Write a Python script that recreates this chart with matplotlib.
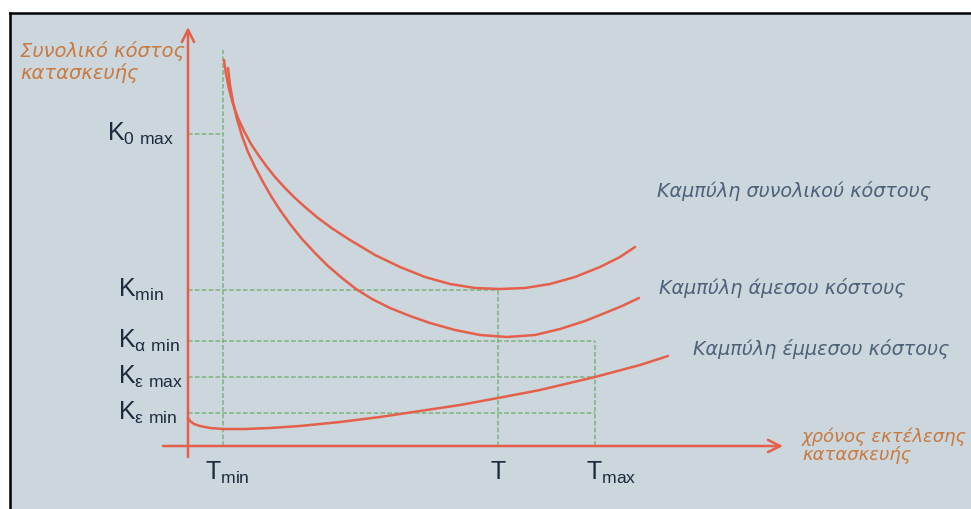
import matplotlib
matplotlib.use("Agg")
import matplotlib.pyplot as plt

# schematic units, origin at the crossing of the two axes
T_MIN, T_OPT, T_MAX = 35, 310, 407
K0_MAX, K_MIN, KA_MIN, KE_MAX, KE_MIN = 312, 156, 105, 69, 33
TMIN_TOP = 396

# total cost curve
total_t = [36, 38, 41, 45, 50, 56, 63, 71, 79, 87, 97, 107, 117, 130, 145, 162,
           187, 212, 237, 262, 287, 312, 337, 362, 387, 412, 432, 447]
total_k = [386, 372, 357, 342, 328, 315, 302, 290, 279, 269, 258, 248, 239, 228, 217, 206,
           191, 179, 169, 162, 158, 157, 158, 162, 169, 179, 189, 199]
# direct cost curve
direct_t = [40, 42, 45, 49, 54, 60, 67, 75, 83, 92, 102, 114, 127, 140, 154, 168,
            184, 202, 222, 242, 267, 292, 319, 347, 372, 397, 417, 434, 451]
direct_k = [378, 361, 344, 327, 310, 294, 279, 264, 250, 236, 222, 207, 193, 180, 168, 157,
            147, 138, 130, 123, 116, 111, 109, 111, 117, 125, 133, 140, 148]
# indirect cost curve
indirect_t = [0, 2, 6, 12, 22, 35, 57, 82, 112, 152, 192, 232, 272, 310, 352, 407, 452, 480]
indirect_k = [28, 25, 22, 20, 18, 17, 17, 18, 20, 24, 29, 35, 41, 48, 56, 69, 81, 90]

BG = "#cbd6dd"
RED = "#e4604a"
GREEN = "#7fb27a"
ORANGE = "#c97a40"
SLATE = "#4d6179"
DARK = "#1e2a3e"

plt.rcParams["font.family"] = ["Liberation Sans", "DejaVu Sans"]
plt.rcParams["mathtext.fontset"] = "custom"
plt.rcParams["mathtext.rm"] = "Liberation Sans"
ITAL = dict(family="DejaVu Sans", style="oblique")

W, H = 971, 509
fig = plt.figure(figsize=(W / 100, H / 100), dpi=100)
fig.patch.set_facecolor("white")
ax = fig.add_axes([10 / W, 0, (W - 10) / W, (H - 13) / H])
ax.set_facecolor(BG)
ax.set_xlim(-178, 783)
ax.set_ylim(-63, 433)
ax.set_xticks([]); ax.set_yticks([])
for s in ("right", "bottom"):
    ax.spines[s].set_visible(False)
for s in ("left", "top"):
    ax.spines[s].set_color("black"); ax.spines[s].set_linewidth(1.8)

dash = dict(color=GREEN, lw=1.1, ls=(0, (3, 1.5)))
ax.plot([T_MIN, T_MIN], [0, TMIN_TOP], **dash)
ax.plot([T_OPT, T_OPT], [0, K_MIN], **dash)
ax.plot([T_MAX, T_MAX], [0, KA_MIN], **dash)
ax.plot([0, T_MIN], [K0_MAX, K0_MAX], **dash)
ax.plot([0, T_OPT], [K_MIN, K_MIN], **dash)
for k in (KA_MIN, KE_MAX, KE_MIN):
    ax.plot([0, T_MAX], [k, k], **dash)

curve = dict(color=RED, lw=1.8, solid_capstyle="round", solid_joinstyle="round")
ax.plot(total_t, total_k, **curve)
ax.plot(direct_t, direct_k, **curve)
ax.plot(indirect_t, indirect_k, **curve)

arrow = dict(arrowstyle="->", color=RED, lw=1.8, mutation_scale=22, shrinkA=0, shrinkB=0)
ax.annotate("", xy=(0, 419), xytext=(0, -11), arrowprops=arrow)
ax.annotate("", xy=(595, 0), xytext=(-25, 0), arrowprops=arrow)

# value labels on the axes
klabels = [(r"K$_{\mathrm{0\ max}}$", -81, K0_MAX),
           (r"K$_{\mathrm{min}}$", -70, K_MIN),
           (r"K$_{\mathrm{α\ min}}$", -70, KA_MIN),
           (r"K$_{\mathrm{ε\ max}}$", -70, KE_MAX),
           (r"K$_{\mathrm{ε\ min}}$", -70, KE_MIN)]
for txt, x, k in klabels:
    ax.text(x, k - 7, txt, fontsize=18, color=DARK, ha="left", va="baseline")
ax.text(17, -14, r"T$_{\mathrm{min}}$", fontsize=18, color=DARK, ha="left", va="top")
ax.text(T_OPT, -14, "T", fontsize=18, color=DARK, ha="center", va="top")
ax.text(398, -14, r"T$_{\mathrm{max}}$", fontsize=18, color=DARK, ha="left", va="top")

ax.text(-168, 405, "Συνολικό κόστος\nκατασκευής", fontsize=14, color=ORANGE,
        ha="left", va="top", linespacing=1.15, **ITAL)
ax.text(614, 19, "χρόνος εκτέλεσης\nκατασκευής", fontsize=13, color=ORANGE,
        ha="left", va="top", linespacing=1.05, **ITAL)

ax.text(469, 255, "Καμπύλη συνολικού κόστους", fontsize=13.8, color=SLATE,
        ha="left", va="center", **ITAL)
ax.text(471, 158, "Καμπύλη άμεσου κόστους", fontsize=13.8, color=SLATE,
        ha="left", va="center", **ITAL)
ax.text(505, 97, "Καμπύλη έμμεσου κόστους", fontsize=13.8, color=SLATE,
        ha="left", va="center", **ITAL)

fig.savefig("out.png", dpi=100, facecolor="white")
